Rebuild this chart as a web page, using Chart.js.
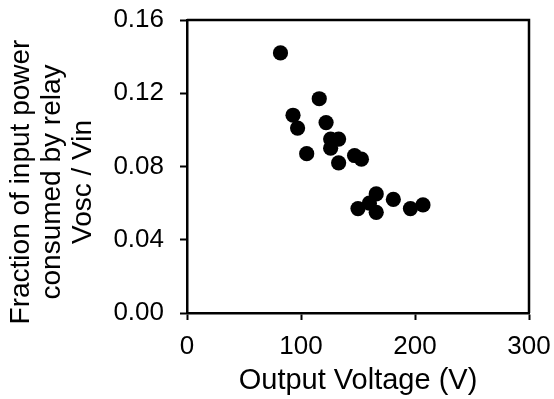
<!DOCTYPE html>
<html>
<head>
<meta charset="utf-8">
<script src="https://cdn.jsdelivr.net/npm/chart.js@4"></script>
<style>
  html, body { margin: 0; padding: 0; background: #fff; }
  #wrap { width: 554px; height: 399px; }
</style>
</head>
<body>
<div id="wrap"><canvas id="myChart"></canvas></div>
<script>
var voltage = [82, 93, 97, 105, 116, 122, 126, 133, 126, 133, 147, 153, 150, 160, 166, 166, 181, 196, 207];
var fraction = [0.142, 0.108, 0.101, 0.087, 0.117, 0.104, 0.095, 0.095, 0.090, 0.082, 0.086, 0.084, 0.057, 0.060, 0.065, 0.055, 0.062, 0.057, 0.059];
var yTitleLines = ["Fraction of input power", "consumed by relay", "Vosc / Vin"];
var xTitle = "Output Voltage (V)";

var FONT = "'Liberation Sans', Arial, Helvetica, sans-serif";

var points = [];
for (var i = 0; i < voltage.length; i++) {
  points.push({ x: voltage[i], y: fraction[i] });
}

// box round the plot + the rotated y title
var frame = {
  id: "frame",
  afterDraw: function (chart) {
    var ctx = chart.ctx;
    var a = chart.chartArea;
    ctx.save();
    ctx.strokeStyle = "#000";
    ctx.lineWidth = 2.5;
    ctx.beginPath();
    ctx.moveTo(a.left, a.top);
    ctx.lineTo(a.right, a.top);
    ctx.lineTo(a.right, a.bottom);
    ctx.stroke();

    ctx.translate(0, 182);
    ctx.rotate(-Math.PI / 2);
    ctx.fillStyle = "#000";
    ctx.font = "28px " + FONT;
    ctx.textAlign = "center";
    ctx.textBaseline = "middle";
    for (var j = 0; j < yTitleLines.length; j++) {
      ctx.fillText(yTitleLines[j], 0, 21 + j * 31);
    }
    ctx.restore();
  }
};

new Chart(document.getElementById("myChart"), {
  type: "scatter",
  data: {
    datasets: [{
      data: points,
      backgroundColor: "#000",
      borderWidth: 0,
      pointRadius: 7.6,
      pointHoverRadius: 7.6
    }]
  },
  options: {
    responsive: true,
    maintainAspectRatio: false,
    animation: false,
    events: [],
    layout: { padding: { top: 20, right: 25, left: 0, bottom: 0 } },
    plugins: { legend: { display: false }, tooltip: { enabled: false } },
    scales: {
      x: {
        type: "linear",
        min: 0, max: 300,
        afterFit: function (s) { s.height = 86; s.paddingLeft = 0; s.paddingRight = 0; },
        grid: { drawOnChartArea: false, tickLength: 7, tickWidth: 2, tickColor: "#000" },
        border: { color: "#000", width: 2.5 },
        ticks: { stepSize: 100, color: "#000", padding: 11, font: { size: 26, family: FONT } },
        title: { display: true, text: xTitle, color: "#000", padding: { top: 4, bottom: 1 }, font: { size: 29, family: FONT } }
      },
      y: {
        type: "linear",
        min: 0, max: 0.16,
        afterFit: function (s) { s.width = 187; s.paddingTop = 0; s.paddingBottom = 0; },
        grid: { drawOnChartArea: false, tickLength: 7, tickWidth: 2, tickColor: "#000" },
        border: { color: "#000", width: 2.5 },
        ticks: {
          stepSize: 0.04, color: "#000", padding: 16,
          font: { size: 26, family: FONT },
          callback: function (v) { return v.toFixed(2); }
        }
      }
    }
  },
  plugins: [frame]
});
</script>
</body>
</html>
